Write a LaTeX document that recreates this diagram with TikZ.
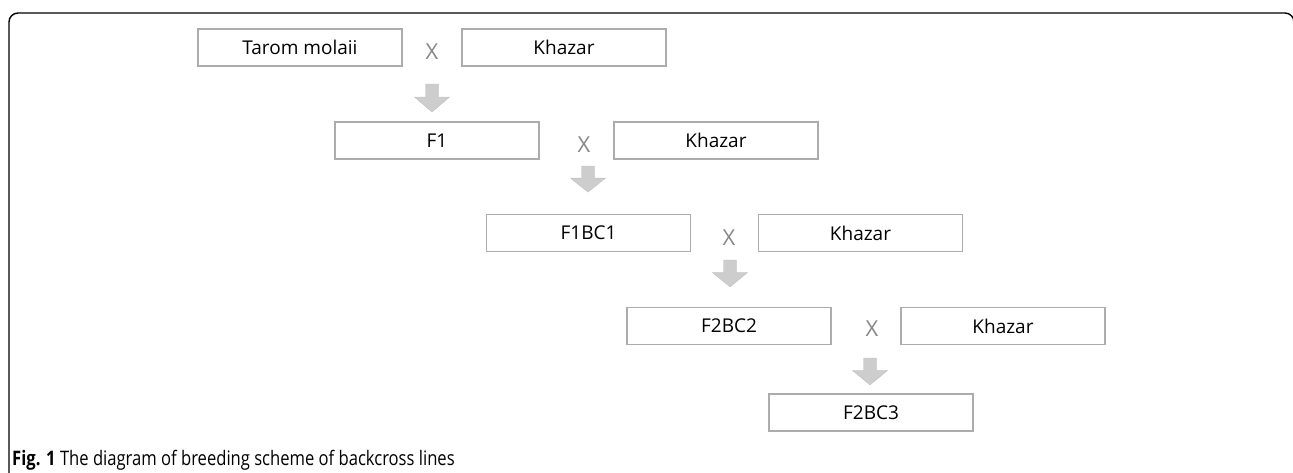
\documentclass[tikz,border=0pt]{standalone}
\usepackage{fontspec}
\setmainfont{Open Sans}
\newfontfamily\capfont{Open Sans}[FakeStretch=0.83]
\definecolor{boxgray}{RGB}{172,172,172}
\definecolor{xgray}{RGB}{135,135,135}
\definecolor{arrfill}{RGB}{205,205,205}
\definecolor{arredge}{RGB}{190,190,190}
\tikzset{
  linebox/.style={draw=boxgray, line width=1.3pt, fill=white, minimum width=204pt, minimum height=37pt, inner sep=0pt, font=\fontsize{19}{21}\selectfont},
  crossmark/.style={text=xgray, inner sep=0pt, font=\fontsize{22}{24}\selectfont},
  blockarrow/.pic={\fill[arrfill, draw=arredge, line width=0.4pt] (-6.5,0) -- (6.5,0) -- (6.5,13) -- (17.5,13) -- (0,28) -- (-17.5,13) -- (-6.5,13) -- cycle;}
}
\begin{document}
\begin{tikzpicture}[x=1pt, y=-1pt]
\useasboundingbox (0,0) rectangle (1293,472);
% frame
\draw[line width=1.4pt, rounded corners=9pt] (9,480) -- (9,13) -- (1294,13) -- (1294,60);
% row 1
\node[linebox] (tarom) at (300,47.5) {Tarom molaii};
\node[crossmark] (x1) at (432,52) {X};
\node[linebox] (kh1) at (564,47.5) {Khazar};
% row 2
\node[linebox] (f1) at (437,140.5) {F1};
\node[crossmark] (x2) at (584,145) {X};
\node[linebox] (kh2) at (716,140.5) {Khazar};
% row 3
\node[linebox] (f1bc1) at (588.5,233) {F1BC1};
\node[crossmark] (x3) at (729,238) {X};
\node[linebox] (kh3) at (860.5,233) {Khazar};
% row 4
\node[linebox] (f2bc2) at (729,326) {F2BC2};
\node[crossmark] (x4) at (872,329) {X};
\node[linebox] (kh4) at (1003,326) {Khazar};
% row 5
\node[linebox] (f2bc3) at (871,412.5) {F2BC3};
% arrows
\coordinate (a1) at (432,84);
\coordinate (a2) at (588,166);
\coordinate (a3) at (730,260);
\coordinate (a4) at (870,358);
\pic at (a1) {blockarrow};
\pic[yscale=0.93] at (a2) {blockarrow};
\pic[yscale=0.96] at (a3) {blockarrow};
\pic[yscale=0.96] at (a4) {blockarrow};
% caption
\node[anchor=base west, inner sep=0pt, font=\capfont\fontsize{20}{22}\selectfont] (cap) at (12,465) {\textbf{Fig. 1} The diagram of breeding scheme of backcross lines};
\end{tikzpicture}
\end{document}
